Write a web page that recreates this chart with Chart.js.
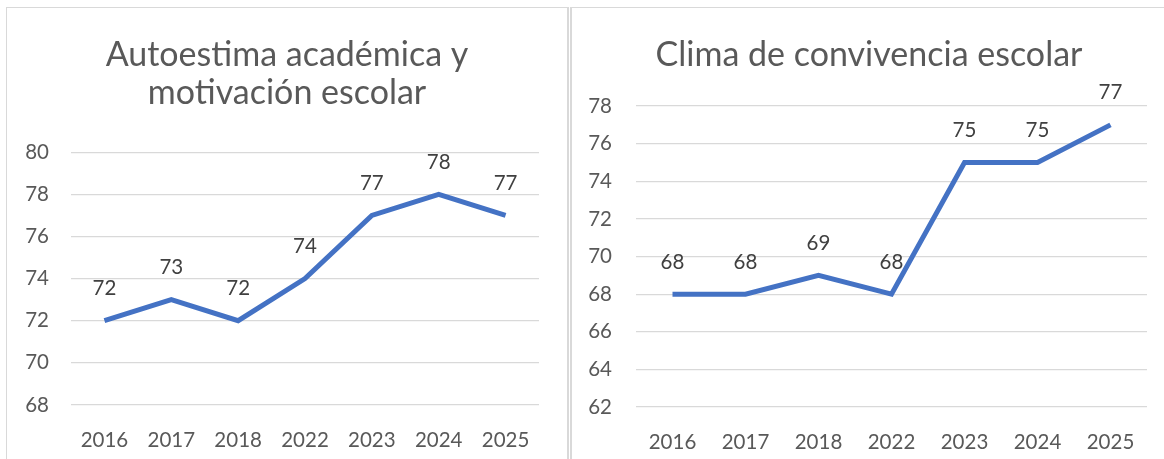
<!DOCTYPE html>
<html>
<head>
<meta charset="utf-8">
<script src="https://cdn.jsdelivr.net/npm/chart.js@4"></script>
<style>
  html, body { margin: 0; padding: 0; background: #fff; overflow: hidden; }
  body { width: 1164px; height: 459px; position: relative; }
  .panel { position: absolute; top: 7px; border: 1px solid #d9d9d9; border-bottom: none; background: #fff; }
  #p1 { left: 6px; width: 560px; height: 460px; border-right-width: 2px; }
  #p2 { left: 570px; width: 600px; height: 460px; border-left-width: 2px; border-right: none; }
  canvas { position: absolute; top: 0; left: 0; }
</style>
</head>
<body>
<div class="panel" id="p1"><canvas id="c1" width="560" height="452"></canvas></div>
<div class="panel" id="p2"><canvas id="c2" width="594" height="452"></canvas></div>
<script>
// Datos
const years = ["2016", "2017", "2018", "2022", "2023", "2024", "2025"];
const autoestima = [72, 73, 72, 74, 77, 78, 77];
const convivencia = [68, 68, 69, 68, 75, 75, 77];
const ticks1 = [68, 70, 72, 74, 76, 78, 80];
const ticks2 = [62, 64, 66, 68, 70, 72, 74, 76, 78];

const fontFam = "Lato, 'Open Sans', sans-serif";

// Etiquetas de datos encima de cada punto
const labelsPlugin = {
    id: 'valueLabels',
    afterDatasetsDraw(chart) {
        const ctx = chart.ctx;
        ctx.save();
        ctx.font = "20.5px " + fontFam;
        ctx.fillStyle = "#404040";
        ctx.textAlign = "center";
        ctx.textBaseline = "middle";
        chart.getDatasetMeta(0).data.forEach((pt, i) => {
            ctx.fillText(chart.data.datasets[0].data[i], pt.x, pt.y - 32);
        });
        ctx.restore();
    }
};

function makeChart(id, title, values, tickList, opts) {
    new Chart(document.getElementById(id), {
        type: 'line',
        data: {
            labels: years,
            datasets: [{
                data: values,
                borderColor: "#4472C4",
                borderWidth: 5,
                pointRadius: 0,
                tension: 0,
                fill: false
            }]
        },
        options: {
            responsive: false,
            animation: false,
            plugins: {
                legend: { display: false },
                tooltip: { enabled: false },
                title: {
                    display: true,
                    text: title,
                    color: "#595959",
                    font: { family: fontFam, size: 34, weight: 'normal', lineHeight: 1.12 },
                    padding: { top: 28, bottom: opts.titleBottom }
                }
            },
            scales: {
                x: {
                    offset: true,
                    grid: { display: false },
                    border: { display: false },
                    ticks: { color: "#595959", font: { family: fontFam, size: 20.5 }, padding: 15, maxRotation: 0 },
                    afterFit(s) { s.height = opts.xHeight; }
                },
                y: {
                    min: tickList[0],
                    max: tickList[tickList.length - 1],
                    afterBuildTicks(s) { s.ticks = tickList.map(v => ({ value: v })); },
                    grid: { color: "#d9d9d9", lineWidth: 1.3, drawTicks: false },
                    border: { display: false },
                    ticks: { color: "#595959", font: { family: fontFam, size: 20.5 }, padding: opts.yPad },
                    afterFit(s) { s.width = opts.yWidth; }
                },
                // eje vacío a la derecha, solo para dejar el margen
                yR: {
                    position: 'right',
                    grid: { display: false },
                    border: { display: false },
                    ticks: { display: false },
                    afterFit(s) { s.width = opts.padRight; }
                }
            }
        },
        plugins: [labelsPlugin]
    });
}

makeChart('c1', ["Autoestima académica y", "motivación escolar"], autoestima, ticks1,
    { padRight: 28, titleBottom: 40, xHeight: 55, yWidth: 64, yPad: 22 });
makeChart('c2', "Clima de convivencia escolar", convivencia, ticks2,
    { padRight: 19, titleBottom: 32, xHeight: 53, yWidth: 64, yPad: 24 });
</script>
</body>
</html>
